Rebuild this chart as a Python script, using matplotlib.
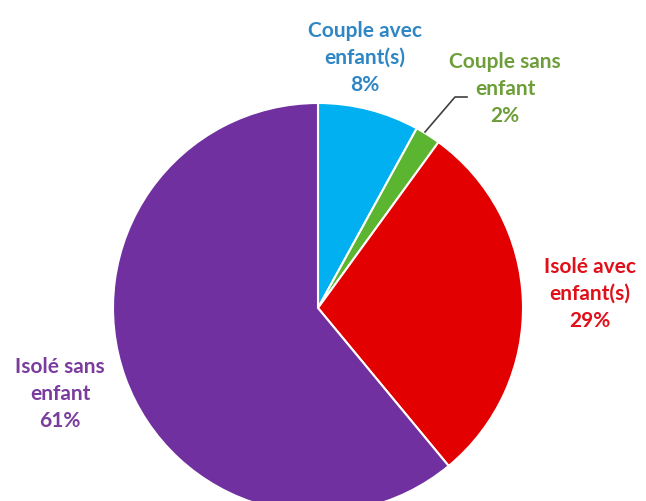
import matplotlib.pyplot as plt

# Données
categories = ["Couple avec\nenfant(s)", "Couple sans\nenfant", "Isolé avec\nenfant(s)", "Isolé sans\nenfant"]
valeurs = [8, 2, 29, 61]
couleurs_parts = ["#00B0F0", "#5CB531", "#E20000", "#7030A0"]
couleurs_textes = ["#2F86C4", "#6E9E3A", "#E0101A", "#7A3D9E"]

W, H = 646, 501
fig = plt.figure(figsize=(W / 100, H / 100), dpi=100)
ax = fig.add_axes([0, 0, 1, 1])

cx, cy, r = 318, H - 308, 205
ax.pie(valeurs, colors=couleurs_parts, startangle=90, counterclock=False,
       center=(cx, cy), radius=r, frame=True,
       wedgeprops=dict(edgecolor="white", linewidth=1.5))
ax.set_xlim(0, W)
ax.set_ylim(0, H)
ax.axis("off")

# positions des étiquettes (pixels)
positions = [(365, 58), (505, 89), (590, 294), (60, 394)]
for cat, val, col, (px, py) in zip(categories, valeurs, couleurs_textes, positions):
    ax.text(px, H - py, f"{cat}\n{val}%", ha="center", va="center",
            color=col, fontsize=15, fontweight="bold", family="Lato",
            linespacing=1.45)

# ligne de rappel pour "Couple sans enfant"
ax.plot([425, 455, 467], [H - 132, H - 97, H - 97], color="#404040", lw=1.2)

fig.savefig("out.png", dpi=100)
